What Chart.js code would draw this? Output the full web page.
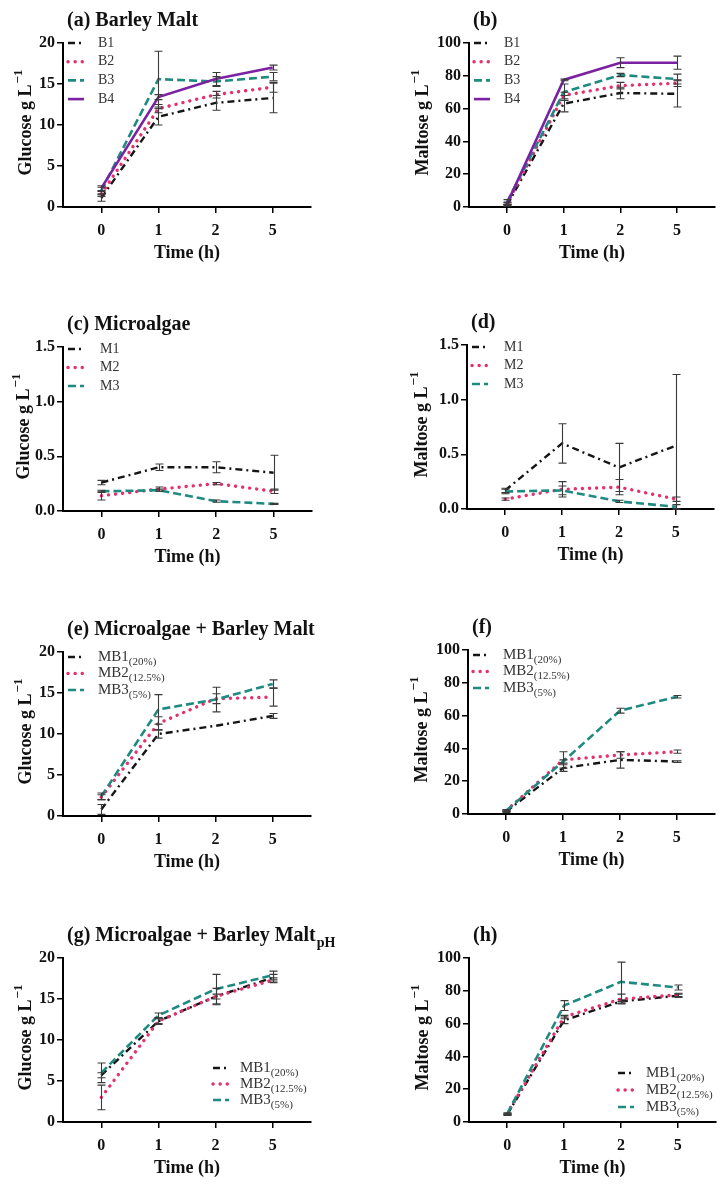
<!DOCTYPE html>
<html>
<head>
<meta charset="utf-8">
<script src="https://cdn.jsdelivr.net/npm/chart.js@4.4.1/dist/chart.umd.min.js"></script>
<style>
  body { margin: 0; background: #fff; width: 726px; height: 1191px; position: relative; overflow: hidden; }
  .panel { position: absolute; width: 363px; height: 272px; }
</style>
</head>
<body>
<div class="panel" style="left:0;top:0"><canvas id="pa" width="363" height="272"></canvas></div>
<div class="panel" style="left:363px;top:0"><canvas id="pb" width="363" height="272"></canvas></div>
<div class="panel" style="left:0;top:304px"><canvas id="pc" width="363" height="272"></canvas></div>
<div class="panel" style="left:363px;top:302px"><canvas id="pd" width="363" height="272"></canvas></div>
<div class="panel" style="left:0;top:609px"><canvas id="pe" width="363" height="272"></canvas></div>
<div class="panel" style="left:363px;top:607px"><canvas id="pf" width="363" height="272"></canvas></div>
<div class="panel" style="left:0;top:915px"><canvas id="pg" width="363" height="272"></canvas></div>
<div class="panel" style="left:363px;top:915px"><canvas id="ph" width="363" height="272"></canvas></div>
<script>
// sampling times (h), shown as evenly spaced categories
const TIMES = ['0', '1', '2', '5'];

// (a) barley malt, glucose
const A_B1 = [1.1, 11.0, 12.7, 13.3], A_B1_SD = [0.4, 1.0, 0.9, 1.8];
const A_B2 = [1.6, 12.0, 13.7, 14.6], A_B2_SD = [0.3, 0.5, 0.4, 0.6];
const A_B3 = [2.0, 15.6, 15.3, 15.9], A_B3_SD = [0.4, 3.4, 0.6, 0.5];
const A_B4 = [2.3, 13.4, 15.6, 17.0], A_B4_SD = [0.3, 0.3, 0.8, 0.3];

// (b) barley malt, maltose
const B_B1 = [1, 63, 69.5, 69], B_B1_SD = [0.5, 5, 3.5, 8];
const B_B2 = [2, 68, 74, 75.5], B_B2_SD = [0.5, 2, 2, 2];
const B_B3 = [3, 70, 80.5, 78], B_B3_SD = [1.5, 5, 1, 3];
const B_B4 = [2, 77.5, 88, 88], B_B4_SD = [1, 0.5, 3, 4];

// (c) microalgae, glucose
const C_M1 = [0.26, 0.40, 0.40, 0.35], C_M1_SD = [0.02, 0.03, 0.05, 0.16];
const C_M2 = [0.14, 0.20, 0.25, 0.18], C_M2_SD = [0.04, 0.02, 0.01, 0.02];
const C_M3 = [0.18, 0.19, 0.09, 0.065], C_M3_SD = [0.01, 0.01, 0.01, 0.005];

// (d) microalgae, maltose
const D_M1 = [0.17, 0.60, 0.38, 0.58], D_M1_SD = [0.02, 0.18, 0.22, 0.65];
const D_M2 = [0.09, 0.18, 0.20, 0.09], D_M2_SD = [0.01, 0.07, 0.07, 0.02];
const D_M3 = [0.16, 0.17, 0.07, 0.02], D_M3_SD = [0.02, 0.04, 0.01, 0.02];

// (e) microalgae + barley malt, glucose
const E_MB1 = [0.8, 10.0, 11.0, 12.2], E_MB1_SD = [0.6, 0.5, 0, 0.3];
const E_MB2 = [2.3, 11.3, 14.3, 14.5], E_MB2_SD = [0.3, 0.8, 0.6, 1.1];
const E_MB3 = [2.4, 13.0, 14.2, 16.1], E_MB3_SD = [0.4, 1.8, 1.5, 0.5];

// (f) microalgae + barley malt, maltose
const F_MB1 = [1.5, 28, 33, 32], F_MB1_SD = [0.5, 2, 5, 0.5];
const F_MB2 = [2, 33, 36, 38], F_MB2_SD = [0.5, 5, 2, 1];
const F_MB3 = [2, 32, 63, 71.5], F_MB3_SD = [0.5, 1, 1.5, 0.8];

// (g) microalgae + barley malt (pH), glucose
const G_MB1 = [5.7, 12.3, 15.3, 17.6], G_MB1_SD = [0.3, 0.4, 1.0, 0.4];
const G_MB2 = [3.0, 12.3, 15.3, 17.3], G_MB2_SD = [1.5, 0.3, 0.3, 0.3];
const G_MB3 = [6.0, 13.0, 16.2, 17.9], G_MB3_SD = [1.2, 0.3, 1.8, 0.5];

// (h) microalgae + barley malt (pH), maltose
const H_MB1 = [4.5, 62, 73.5, 77], H_MB1_SD = [0.5, 2, 1, 1];
const H_MB2 = [5, 64, 75, 77.5], H_MB2_SD = [0.5, 1, 3, 1];
const H_MB3 = [5, 71, 85.5, 82], H_MB3_SD = [0.5, 3, 12, 1.5];

// line look per series slot
const STYLES = [
  { color: '#151515', dash: [7, 4, 2, 4], width: 2.4, cap: 'butt' },
  { color: '#e3306e', dash: [0.1, 7], width: 3.4, cap: 'round' },
  { color: '#1f8a80', dash: [8, 4], width: 2.6, cap: 'butt' },
  { color: '#7b22a3', dash: [], width: 2.6, cap: 'butt' }
];

const SERIF = '"Liberation Serif", "DejaVu Serif", serif';

// error bars, drawn through the chart scales
const errorBars = {
  id: 'errorBars',
  afterDatasetsDraw(chart) {
    const ctx = chart.ctx;
    const xs = chart.scales.x, ys = chart.scales.y;
    ctx.save();
    ctx.strokeStyle = '#3a3a3a';
    ctx.lineWidth = 1.1;
    chart.data.datasets.forEach(ds => {
      ds.data.forEach((p, i) => {
        const sd = ds.sd[i];
        if (!sd) return;
        const x = Math.round(xs.getPixelForValue(p.x)) + 0.5;
        const yt = ys.getPixelForValue(p.y + sd);
        const yb = ys.getPixelForValue(Math.max(0, p.y - sd));
        ctx.beginPath();
        ctx.moveTo(x, yt); ctx.lineTo(x, yb);
        ctx.moveTo(x - 4, yt); ctx.lineTo(x + 4, yt);
        ctx.moveTo(x - 4, yb); ctx.lineTo(x + 4, yb);
        ctx.stroke();
      });
    });
    ctx.restore();
  }
};

// panel title, axis titles and the in-plot legend
const deco = {
  id: 'deco',
  afterDraw(chart, args, o) {
    const ctx = chart.ctx;
    const a = chart.chartArea;
    ctx.save();
    ctx.fillStyle = '#111';
    ctx.textBaseline = 'alphabetic';

    // title
    ctx.font = 'bold 20px ' + SERIF;
    ctx.textAlign = 'left';
    ctx.fillText(o.title, a.left + 4, 26);
    if (o.titleSub) {
      const w = ctx.measureText(o.title).width;
      ctx.font = 'bold 14px ' + SERIF;
      ctx.fillText(o.titleSub, a.left + 5 + w, 32);
    }

    // x title
    ctx.font = 'bold 18px ' + SERIF;
    ctx.textAlign = 'center';
    ctx.fillText('Time (h)', (a.left + a.right) / 2, a.bottom + 51);

    // y title with superscript
    const base = o.yTitle + ' g L';
    const sup = '\u22121';
    ctx.save();
    ctx.translate(a.left - o.yTitleOff, (a.top + a.bottom) / 2 - 2);
    ctx.rotate(-Math.PI / 2);
    ctx.textAlign = 'left';
    ctx.font = 'bold 18px ' + SERIF;
    const w1 = ctx.measureText(base).width;
    ctx.font = 'bold 13px ' + SERIF;
    const w2 = ctx.measureText(sup).width;
    const sx = -(w1 + w2) / 2;
    ctx.font = 'bold 18px ' + SERIF;
    ctx.fillText(base, sx, 6);
    ctx.font = 'bold 13px ' + SERIF;
    ctx.fillText(sup, sx + w1 + 1, -3);
    ctx.restore();

    // legend
    const L = o.legend;
    chart.data.datasets.forEach((ds, i) => {
      const y = a.top + L.y + i * L.gap;
      const x = a.left + L.x;
      ctx.save();
      ctx.strokeStyle = ds.borderColor;
      ctx.lineWidth = ds.borderWidth;
      ctx.lineCap = ds.borderCapStyle;
      ctx.setLineDash(ds.borderDash);
      ctx.beginPath();
      ctx.moveTo(x, y); ctx.lineTo(x + 16, y);
      ctx.stroke();
      ctx.restore();
      ctx.fillStyle = '#333';
      ctx.textAlign = 'left';
      ctx.textBaseline = 'middle';
      ctx.font = L.size + 'px ' + SERIF;
      ctx.fillText(ds.label, x + L.tx, y);
      if (ds.sub) {
        const w = ctx.measureText(ds.label).width;
        ctx.font = (L.size - 4) + 'px ' + SERIF;
        ctx.fillText(ds.sub, x + L.tx + w, y + 5);
      }
    });
    ctx.restore();
  }
};

function axisCommon() {
  return {
    grid: { display: true, drawOnChartArea: false, drawTicks: true, tickLength: 6, color: '#000', lineWidth: 1.5 },
    border: { display: true, color: '#000', width: 2 }
  };
}

function makePanel(id, cfg) {
  const canvas = document.getElementById(id);
  const datasets = cfg.series.map((s, i) => {
    const st = STYLES[i];
    return {
      label: s.label,
      sub: s.sub,
      sd: s.sd,
      data: s.values.map((v, j) => ({ x: j, y: v })),
      borderColor: st.color,
      borderDash: st.dash,
      borderWidth: st.width,
      borderCapStyle: st.cap,
      pointRadius: 0,
      fill: false,
      tension: 0,
      order: cfg.series.length - i
    };
  });
  new Chart(canvas.getContext('2d'), {
    type: 'line',
    data: { datasets },
    options: {
      responsive: false,
      animation: false,
      layout: { padding: { left: 0, top: 43, right: 363 - cfg.right, bottom: 25 } },
      scales: {
        x: Object.assign(axisCommon(), {
          type: 'linear',
          min: -0.67,
          max: 3.67,
          ticks: {
            stepSize: 1,
            includeBounds: false,
            autoSkip: false,
            maxRotation: 0,
            padding: 8,
            color: '#111',
            font: { family: SERIF, size: 16, weight: 'bold' },
            callback: v => TIMES[v] !== undefined ? TIMES[v] : ''
          },
          afterFit: s => { s.height = 40; }
        }),
        y: Object.assign(axisCommon(), {
          min: 0,
          max: cfg.yMax,
          ticks: {
            stepSize: cfg.yStep,
            padding: 2,
            color: '#111',
            font: { family: SERIF, size: 16, weight: 'bold' },
            callback: v => v.toFixed(cfg.dec || 0)
          },
          afterFit: s => { s.width = cfg.left; }
        })
      },
      plugins: {
        legend: { display: false },
        tooltip: { enabled: false },
        deco: {
          title: cfg.title,
          titleSub: cfg.titleSub,
          yTitle: cfg.yTitle,
          yTitleOff: cfg.yTitleOff,
          legend: cfg.legend
        }
      }
    },
    plugins: [errorBars, deco]
  });
}

const LEG_B = { x: 5, tx: 30, y: 0, gap: 18.7, size: 14 };
const LEG_M = { x: 5, tx: 32, y: 2, gap: 18.5, size: 14 };
const LEG_MB = { x: 5, tx: 30, y: 5, gap: 16.5, size: 15 };

makePanel('pa', {
  title: '(a) Barley Malt', yTitle: 'Glucose', yTitleOff: 38, left: 63, right: 311,
  yMax: 20, yStep: 5, legend: LEG_B,
  series: [
    { label: 'B1', values: A_B1, sd: A_B1_SD },
    { label: 'B2', values: A_B2, sd: A_B2_SD },
    { label: 'B3', values: A_B3, sd: A_B3_SD },
    { label: 'B4', values: A_B4, sd: A_B4_SD }
  ]
});

makePanel('pb', {
  title: '(b)', yTitle: 'Maltose', yTitleOff: 47, left: 106, right: 352,
  yMax: 100, yStep: 20, legend: LEG_B,
  series: [
    { label: 'B1', values: B_B1, sd: B_B1_SD },
    { label: 'B2', values: B_B2, sd: B_B2_SD },
    { label: 'B3', values: B_B3, sd: B_B3_SD },
    { label: 'B4', values: B_B4, sd: B_B4_SD }
  ]
});

makePanel('pc', {
  title: '(c) Microalgae', yTitle: 'Glucose', yTitleOff: 40, left: 63, right: 312,
  yMax: 1.5, yStep: 0.5, dec: 1, legend: LEG_M,
  series: [
    { label: 'M1', values: C_M1, sd: C_M1_SD },
    { label: 'M2', values: C_M2, sd: C_M2_SD },
    { label: 'M3', values: C_M3, sd: C_M3_SD }
  ]
});

makePanel('pd', {
  title: '(d)', yTitle: 'Maltose', yTitleOff: 46, left: 104, right: 351,
  yMax: 1.5, yStep: 0.5, dec: 1, legend: LEG_M,
  series: [
    { label: 'M1', values: D_M1, sd: D_M1_SD },
    { label: 'M2', values: D_M2, sd: D_M2_SD },
    { label: 'M3', values: D_M3, sd: D_M3_SD }
  ]
});

makePanel('pe', {
  title: '(e) Microalgae + Barley Malt', yTitle: 'Glucose', yTitleOff: 38, left: 63, right: 311,
  yMax: 20, yStep: 5, legend: LEG_MB,
  series: [
    { label: 'MB1', sub: '(20%)', values: E_MB1, sd: E_MB1_SD },
    { label: 'MB2', sub: '(12.5%)', values: E_MB2, sd: E_MB2_SD },
    { label: 'MB3', sub: '(5%)', values: E_MB3, sd: E_MB3_SD }
  ]
});

makePanel('pf', {
  title: '(f)', yTitle: 'Maltose', yTitleOff: 47, left: 105, right: 352,
  yMax: 100, yStep: 20, legend: LEG_MB,
  series: [
    { label: 'MB1', sub: '(20%)', values: F_MB1, sd: F_MB1_SD },
    { label: 'MB2', sub: '(12.5%)', values: F_MB2, sd: F_MB2_SD },
    { label: 'MB3', sub: '(5%)', values: F_MB3, sd: F_MB3_SD }
  ]
});

makePanel('pg', {
  title: '(g) Microalgae + Barley Malt', titleSub: 'pH', yTitle: 'Glucose', yTitleOff: 38, left: 63, right: 311,
  yMax: 20, yStep: 5, legend: { x: 150, tx: 27, y: 110, gap: 16, size: 15 },
  series: [
    { label: 'MB1', sub: '(20%)', values: G_MB1, sd: G_MB1_SD },
    { label: 'MB2', sub: '(12.5%)', values: G_MB2, sd: G_MB2_SD },
    { label: 'MB3', sub: '(5%)', values: G_MB3, sd: G_MB3_SD }
  ]
});

makePanel('ph', {
  title: '(h)', yTitle: 'Maltose', yTitleOff: 47, left: 106, right: 353,
  yMax: 100, yStep: 20, legend: { x: 149, tx: 28, y: 115, gap: 17, size: 15 },
  series: [
    { label: 'MB1', sub: '(20%)', values: H_MB1, sd: H_MB1_SD },
    { label: 'MB2', sub: '(12.5%)', values: H_MB2, sd: H_MB2_SD },
    { label: 'MB3', sub: '(5%)', values: H_MB3, sd: H_MB3_SD }
  ]
});
</script>
</body>
</html>
